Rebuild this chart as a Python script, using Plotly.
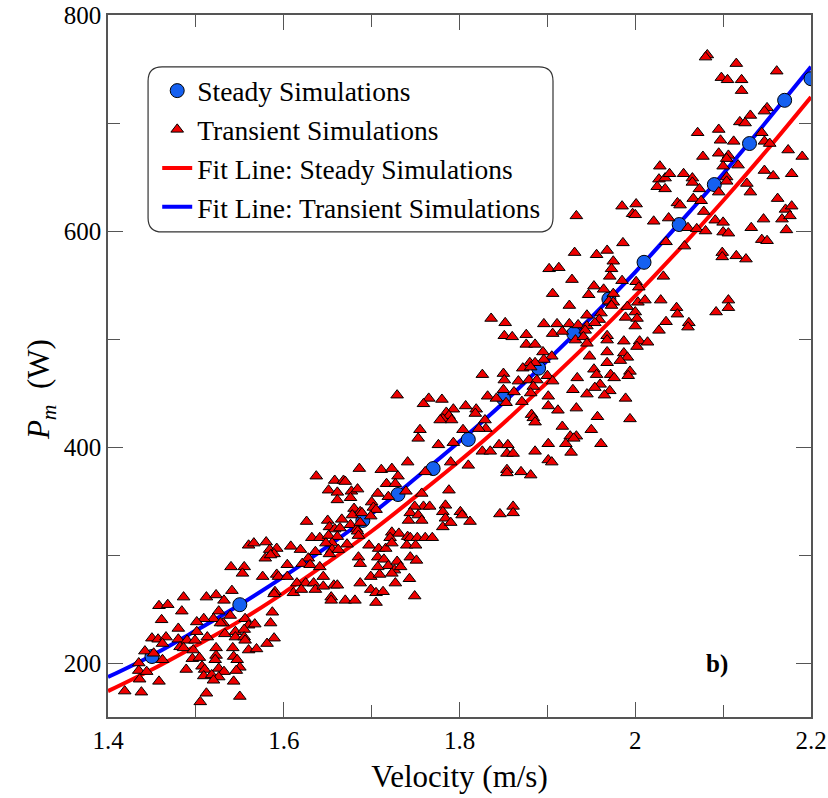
import plotly.graph_objects as go

# ---------------- data ----------------
fit_x = [1.40, 1.45, 1.50, 1.55, 1.60, 1.65, 1.70, 1.75, 1.80, 1.85, 1.90, 1.95, 2.00, 2.05, 2.10, 2.15, 2.20]
fit_transient = [187, 207, 230, 254, 280, 308, 338, 371, 405, 441, 480, 520, 562, 607, 653, 702, 752]
fit_steady = [174, 194, 216, 239, 265, 293, 322, 354, 387, 422, 460, 499, 540, 583, 628, 675, 724]

steady_x = [1.45, 1.55, 1.69, 1.73, 1.77, 1.81, 1.85, 1.89, 1.93, 1.97, 2.01, 2.05, 2.09, 2.13, 2.17, 2.20]
steady_y = [206, 254, 332, 356, 380, 407, 445, 473, 505, 537, 571, 606, 643, 681, 721, 741]

transient_pts = [
    (1.540,289),(1.555,289),(1.553,283),(1.576,280),(1.590,266),(1.541,267),(1.486,261),(1.512,261),(1.523,263),(1.532,258),
    (1.458,253),(1.468,254),(1.484,248),(1.526,248),(1.520,241),(1.509,241),(1.501,238),(1.461,240),(1.531,237),(1.539,244),
    (1.556,241),(1.560,235),(1.567,236),(1.587,247),(1.585,237),(1.480,232),(1.501,229),(1.513,224),(1.528,237),(1.533,227),
    (1.545,229),(1.555,231),(1.545,224),(1.555,224),(1.556,221),(1.450,223),(1.457,222),(1.466,224),(1.480,222),(1.490,221),
    (1.499,221),(1.462,218),(1.482,215),(1.486,214),(1.589,223),(1.581,218),(1.523,214),(1.542,214),(1.560,212),(1.569,213),
    (1.442,211),(1.435,200),(1.497,212),(1.496,204),(1.504,205),(1.523,207),(1.522,203),(1.543,206),(1.547,203),(1.462,203),
    (1.489,194),(1.507,197),(1.510,194),(1.526,195),(1.532,192),(1.550,196),(1.546,193),(1.435,193),(1.444,192),(1.509,188),
    (1.518,189),(1.526,187),(1.520,184),(1.436,185),(1.458,183),(1.543,183),(1.419,174),(1.438,173),(1.512,172),(1.550,169),
    (1.505,164),(1.452,209),
    (1.560,309),(1.566,311),(1.580,312),(1.579,297),(1.584,305),
    (1.686,380),(1.711,379),(1.723,380),(1.637,373),(1.730,373),(1.658,369),(1.668,369),(1.670,368),(1.717,366),(1.727,366),
    (1.651,360),(1.661,358),(1.677,359),(1.684,361),(1.707,357),(1.661,351),(1.676,353),(1.700,349),(1.719,354),(1.680,343),
    (1.702,344),(1.705,342),(1.687,340),(1.626,331),(1.650,332),(1.666,333),(1.678,337),(1.689,339),(1.699,336),(1.652,326),
    (1.658,324),(1.664,325),(1.676,328),(1.683,324),(1.687,330),(1.632,316),(1.641,316),(1.651,318),(1.661,317),(1.655,311),
    (1.648,311),(1.672,310),(1.684,322),(1.685,318),(1.723,321),(1.731,320),(1.721,316),(1.697,309),(1.708,306),(1.716,306),
    (1.723,311),(1.592,306),(1.608,308),(1.619,305),(1.589,301),(1.585,300),(1.628,297),(1.636,303),(1.655,305),(1.652,301),
    (1.662,305),(1.604,291),(1.621,292),(1.630,291),(1.641,289),(1.685,298),(1.687,292),(1.707,298),(1.714,296),(1.719,290),
    (1.729,294),(1.726,286),(1.707,289),(1.699,280),(1.709,282),(1.723,283),(1.592,282),(1.594,280),(1.604,280),(1.615,274),
    (1.625,274),(1.634,274),(1.645,280),(1.657,272),(1.661,272),(1.687,274),(1.699,268),(1.705,265),(1.713,266),(1.727,274),
    (1.611,265),(1.620,268),(1.636,268),(1.645,271),(1.654,261),(1.654,258),(1.670,258),(1.681,258),(1.705,256),(1.589,264),
    (1.741,317),(1.744,316),(1.752,316),(1.761,316),(1.769,316),(1.740,309),(1.750,309),(1.744,298),(1.751,295),(1.733,289),
    (1.743,278),(1.749,262),
    (1.729,448),(1.759,345),(1.781,326),(1.836,519),(1.852,515),
    (1.851,503),(1.860,502),(1.876,504),(1.906,505),(1.917,507),(1.876,495),(1.886,495),(1.895,488),(1.905,484),(1.896,481),
    (1.880,478),(1.872,473),(1.886,478),(1.881,474),(1.826,467),(1.850,468),(1.851,462),(1.867,461),(1.879,462),(1.888,462),
    (1.900,466),(1.934,464),(1.884,456),(1.906,461),(1.850,453),(1.862,451),(1.881,450),(1.832,447),(1.842,445),(1.853,441),
    (1.871,442),(1.901,447),(1.929,453),(1.765,445),(1.780,444),(1.759,440),(1.807,438),(1.819,435),(1.818,431),(1.793,435),
    (1.785,432),(1.788,429),(1.781,426),(1.791,425),(1.778,425),(1.829,425),(1.830,417),(1.882,430),(1.884,427),(1.886,423),
    (1.901,438),(1.912,434),(1.933,436),(1.804,416),(1.822,417),(1.755,416),(1.753,408),(1.776,402),(1.793,404),(1.826,396),
    (1.835,396),(1.845,402),(1.855,402),(1.854,394),(1.861,394),(1.886,396),(1.901,403),(1.917,419),(1.926,410),(1.921,403),
    (1.933,410),(1.927,395),(1.741,386),(1.790,386),(1.810,383),(1.901,388),(1.905,386),(1.854,379),(1.854,376),(1.870,377),
    (1.881,374),(1.761,377),(1.739,359),(1.788,360),(1.757,357),(1.749,345),(1.766,345),(1.784,346),(1.744,339),(1.753,337),
    (1.757,332),(1.781,340),(1.784,334),(1.790,330),(1.801,340),(1.803,337),(1.812,331),(1.846,338),(1.861,345),(1.861,339),
    (1.742,332),(1.932,499),(1.930,408),
    (2.027,648),(2.034,649),(2.025,641),(2.034,639),(1.985,623),(2.001,625),(1.997,616),(2.000,615),(1.933,614),(2.048,626),
    (2.021,609),(2.038,612),(1.986,589),(2.035,590),(1.931,580),(1.956,578),(1.968,582),(1.975,572),(1.902,565),(1.913,566),
    (1.973,565),(1.971,558),(1.928,555),(1.985,554),(2.001,553),(2.004,548),(2.032,558),(1.953,549),(1.964,546),(1.947,541),
    (1.906,542),(1.975,542),(1.925,531),(1.970,535),(1.975,534),(1.973,531),(1.991,530),(2.003,534),(2.011,536),(2.029,536),
    (2.047,529),(2.048,523),(1.945,522),(1.961,524),(1.959,518),(1.989,520),(2.000,525),(2.002,519),(2.035,516),(1.896,514),
    (1.911,514),(1.925,514),(1.935,513),(1.945,512),(1.954,515),(2.000,512),(2.027,508),(1.943,508),(1.941,502),(1.968,503),
    (1.945,496),(1.968,499),(1.987,498),(2.005,498),(2.014,497),(2.002,493),(1.968,488),(1.987,487),(1.991,483),(1.948,484),
    (1.968,478),(1.983,480),(1.953,472),(1.956,467),(1.972,467),(1.976,464),(1.994,470),(1.992,466),(1.960,458),(1.954,455),
    (1.971,452),(1.945,449),(1.965,448),(1.989,445),(1.957,428),(1.994,426),(1.950,416),(1.961,403),
    (2.082,763),(2.080,761),(2.115,755),(2.161,748),(2.098,742),(2.105,740),(2.121,740),(2.121,730),(2.150,714),(2.147,711),
    (2.131,707),(2.119,701),(2.125,700),(2.071,691),(2.095,694),(2.097,684),(2.112,683),(2.144,691),(2.147,683),(2.153,681),
    (2.174,675),(2.190,669),(2.077,669),(2.095,672),(2.106,670),(2.104,667),(2.117,661),(2.100,660),(2.028,660),(2.039,653),
    (2.055,653),(2.065,649),(2.065,645),(2.104,650),(2.104,646),(2.147,656),(2.157,651),(2.178,653),(2.073,639),(2.095,636),
    (2.127,644),(2.131,636),(2.066,630),(2.075,628),(2.078,618),(2.051,624),(2.162,630),(2.171,620),(2.178,623),(2.167,611),
    (2.176,614),(2.172,601),(2.146,611),(2.132,603),(2.091,610),(2.100,608),(2.060,603),(2.070,602),(2.080,600),(2.100,599),
    (2.106,598),(2.144,592),(2.150,591),(2.056,586),(2.099,580),(2.099,576),(2.115,577),(2.126,574),(2.106,536),(2.106,529),
    (2.092,525),(2.061,515),(2.060,511),
]
transient_x = [p[0] for p in transient_pts]
transient_y = [p[1] for p in transient_pts]

x_tickvals = [1.4, 1.6, 1.8, 2.0, 2.2]
x_ticktext = ["1.4", "1.6", "1.8", "2", "2.2"]
y_tickvals = [200, 400, 600, 800]
y_ticktext = ["200", "400", "600", "800"]

# ---------------- figure ----------------
FONT = "Liberation Serif"
fig = go.Figure()

fig.add_trace(go.Scatter(x=fit_x, y=fit_steady, mode="lines", name="Fit Line: Steady Simulations",
                         line=dict(color="#ff0000", width=4, shape="spline"), legendrank=3))
fig.add_trace(go.Scatter(x=fit_x, y=fit_transient, mode="lines", name="Fit Line: Transient Simulations",
                         line=dict(color="#0000ff", width=4, shape="spline"), legendrank=4))
fig.add_trace(go.Scatter(x=steady_x, y=steady_y, mode="markers", name="Steady Simulations",
                         marker=dict(symbol="circle", size=14, color="#1560f0",
                                     line=dict(color="#000000", width=1)), legendrank=1))
fig.add_trace(go.Scatter(x=transient_x, y=transient_y, mode="markers", name="Transient Simulations",
                         marker=dict(symbol="triangle-up", size=11, color="#ee0000",
                                     line=dict(color="#000000", width=1)), legendrank=2))

# rounded legend frame (paper coords)
x0, x1, y0, y1 = 0.057, 0.633, 0.691, 0.926
rx, ry = 0.02, 0.02
path = (f"M {x0+rx},{y0} L {x1-rx},{y0} Q {x1},{y0} {x1},{y0+ry} "
        f"L {x1},{y1-ry} Q {x1},{y1} {x1-rx},{y1} L {x0+rx},{y1} "
        f"Q {x0},{y1} {x0},{y1-ry} L {x0},{y0+ry} Q {x0},{y0} {x0+rx},{y0} Z")
fig.add_shape(type="path", path=path, xref="paper", yref="paper",
              line=dict(color="#333333", width=1.2), fillcolor="rgba(255,255,255,0)", layer="above")

axis_common = dict(showline=True, linecolor="#555555", linewidth=1.6, mirror="ticks",
                   ticks="inside", ticklen=15, tickwidth=1.4, tickcolor="#555555",
                   showgrid=False, zeroline=False, automargin=False,
                   tickfont=dict(family=FONT, size=25, color="#000000"))

fig.update_xaxes(range=[1.4, 2.2], tickvals=x_tickvals, ticktext=x_ticktext,
                 minor=dict(ticks="inside", dtick=0.1, ticklen=12, tickcolor="#555555", tickwidth=1.4),
                 title=dict(text="Velocity (m/s)", font=dict(family=FONT, size=31, color="#000000"), standoff=13),
                 **axis_common)
fig.update_yaxes(range=[150, 800], tickvals=y_tickvals, ticktext=y_ticktext,
                 minor=dict(ticks="inside", dtick=100, ticklen=12, tickcolor="#555555", tickwidth=1.4),
                 ticklabelstandoff=0,
                 **axis_common)

fig.add_annotation(text="<i>P</i><sub><i>m</i></sub>  (W)", textangle=-90, xref="paper", yref="paper",
                   x=-0.095, y=0.466, showarrow=False, xanchor="center", yanchor="middle",
                   font=dict(family=FONT, size=31, color="#000000"))
fig.add_annotation(text="<b>b)</b>", xref="paper", yref="paper", x=0.866, y=0.0755,
                   showarrow=False, xanchor="center", yanchor="middle",
                   font=dict(family=FONT, size=25, color="#000000"))

fig.update_layout(
    width=828, height=798,
    margin=dict(l=108, r=17, t=15, b=81, autoexpand=False),
    paper_bgcolor="white", plot_bgcolor="white",
    showlegend=True,
    legend=dict(x=0.07, y=0.927, xanchor="left", yanchor="top",
                bgcolor="rgba(0,0,0,0)", borderwidth=0,
                font=dict(family=FONT, size=27.5, color="#000000"),
                itemwidth=30, tracegroupgap=0),
    font=dict(family=FONT),
)

fig.write_html("out.html")
